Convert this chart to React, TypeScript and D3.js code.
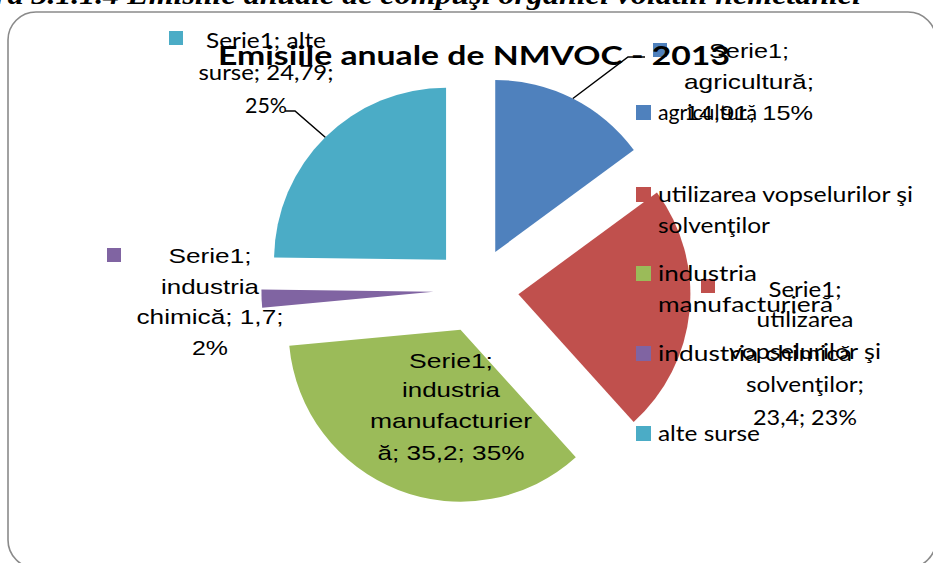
import React from 'react';
import * as d3 from 'd3';

// Emisii anuale NMVOC 2013 (kt)
const categories = ['agricultură', 'utilizarea vopselurilor şi solvenţilor', 'industria manufacturieră', 'industria chimică', 'alte surse'];
const values = [14.91, 23.4, 35.2, 1.7, 24.79];
const valueText = ['14,91', '23,4', '35,2', '1,7', '24,79'];
const percentText = ['15%', '23%', '35%', '2%', '25%'];
const seriesName = 'Serie1';
const colors = ['#4F81BD', '#C0504D', '#9BBB59', '#8064A2', '#4BACC6'];

// legend text as it wraps in the picture
const legendLines = [
  ['agricultură'],
  ['utilizarea vopselurilor şi', 'solvenţilor'],
  ['industria', 'manufacturieră'],
  ['industria chimică'],
  ['alte surse'],
];
const legendBaselines = [120, 202, 281, 361, 441];
const legendWidths = [[99], [255, 112], [99, 175], [194], [102]];

const W = 933;
const H = 563;
const cx = 476;
const cy = 290;
const R = 172;
const explode = 42.6;

const CALIBRI = 'Lato, "Open Sans", sans-serif';
const ARIAL = '"Liberation Sans", Arial, sans-serif';

// data label layout (lines split like in the picture)
const labelLayout = [
  { lines: [`${seriesName};`, `${categories[0]};`, `${valueText[0]}; ${percentText[0]}`], x: 749, ys: [58, 89, 120], widths: [80, 130, 128], font: ARIAL, size: 21, marker: [653, 43], leader: [[628, 57], [645, 57]] },
  { lines: [`${seriesName};`, 'utilizarea', 'vopselurilor şi', 'solvenţilor;', `${valueText[1]}; ${percentText[1]}`], x: 805, ys: [297, 327, 359, 392, 425], widths: [73, 97, 152, 118, 104], font: CALIBRI, size: 22, marker: [701, 279], leader: null },
  { lines: [`${seriesName};`, 'industria', 'manufacturier', `ă; ${valueText[2]}; ${percentText[2]}`], x: 451, ys: [368, 397, 428, 460], widths: [84, 98, 162, 147], font: ARIAL, size: 21, marker: null, leader: null },
  { lines: [`${seriesName};`, 'industria', `chimică; ${valueText[3]};`, percentText[3]], x: 210, ys: [263, 294, 324, 355], widths: [83, 98, 147, 36], font: ARIAL, size: 21, marker: [107, 248], leader: null },
  { lines: [`${seriesName}; alte`, `surse; ${valueText[4]};`, percentText[4]], x: 266, ys: [48, 80, 113], widths: [120, 135, 42], font: CALIBRI, size: 22, marker: [169, 31], leader: [[295, 111], [285, 111]] },
];

export default function App() {
  const arcs = d3.pie<number>().sort(null).value((d) => d)(values);
  const arcGen = d3.arc<d3.PieArcDatum<number>>().innerRadius(0).outerRadius(R);

  const offset = (a: d3.PieArcDatum<number>) => {
    const mid = (a.startAngle + a.endAngle) / 2;
    return [cx + Math.sin(mid) * explode, cy - Math.cos(mid) * explode, mid];
  };

  return (
    <svg width={W} height={H} style={{ position: 'absolute', left: 0, top: 0, display: 'block', background: '#fff' }}>
      {/* caption of the page, cut by the crop */}
      <text x={-69} y={4} fontFamily='"Liberation Serif", serif' fontWeight="bold" fontStyle="italic" fontSize={28} fill="#000"
        textLength={930} lengthAdjust="spacingAndGlyphs">
        Figura 3.1.1.4 Emisiile anuale de compuşi organici volatili nemetanici
      </text>

      <rect x={8} y={12} width={928} height={556} rx={28} fill="#fff" stroke="#8a8a8a" strokeWidth={1.6} />

      {arcs.map((a, i) => {
        const [ox, oy] = offset(a);
        return <path key={i} d={arcGen(a) || ''} transform={`translate(${ox},${oy})`} fill={colors[i]} />;
      })}

      {/* leader lines */}
      {arcs.map((a, i) => {
        const lay = labelLayout[i];
        if (!lay.leader) return null;
        const [ox, oy, mid] = offset(a);
        const sx = ox + Math.sin(mid) * R;
        const sy = oy - Math.cos(mid) * R;
        const pts = [[sx, sy], ...lay.leader];
        return <polyline key={i} points={pts.map((p) => p.join(',')).join(' ')} fill="none" stroke="#000" strokeWidth={1.5} />;
      })}

      {/* data labels */}
      {labelLayout.map((lay, i) => (
        <g key={i}>
          {lay.marker && <rect x={lay.marker[0]} y={lay.marker[1]} width={14} height={14} fill={colors[i]} />}
          {lay.lines.map((t, j) => (
            <text key={j} x={lay.x} y={lay.ys[j]} textAnchor="middle" fontFamily={lay.font} fontSize={lay.size} fill="#000"
              textLength={lay.widths[j]} lengthAdjust="spacingAndGlyphs">
              {t}
            </text>
          ))}
        </g>
      ))}

      {/* legend */}
      {legendLines.map((lines, i) => (
        <g key={i}>
          <rect x={636} y={legendBaselines[i] - 15} width={15} height={15} fill={colors[i]} />
          {lines.map((t, j) => (
            <text key={j} x={658} y={legendBaselines[i] + j * 31} fontFamily={CALIBRI} fontSize={21} fill="#000"
              textLength={legendWidths[i][j]} lengthAdjust="spacingAndGlyphs">
              {t}
            </text>
          ))}
        </g>
      ))}

      <text x={218} y={65} fontFamily={CALIBRI} fontWeight="bold" fontSize={27} fill="#000" textLength={512} lengthAdjust="spacingAndGlyphs">
        Emisiile anuale de NMVOC - 2013
      </text>
    </svg>
  );
}
